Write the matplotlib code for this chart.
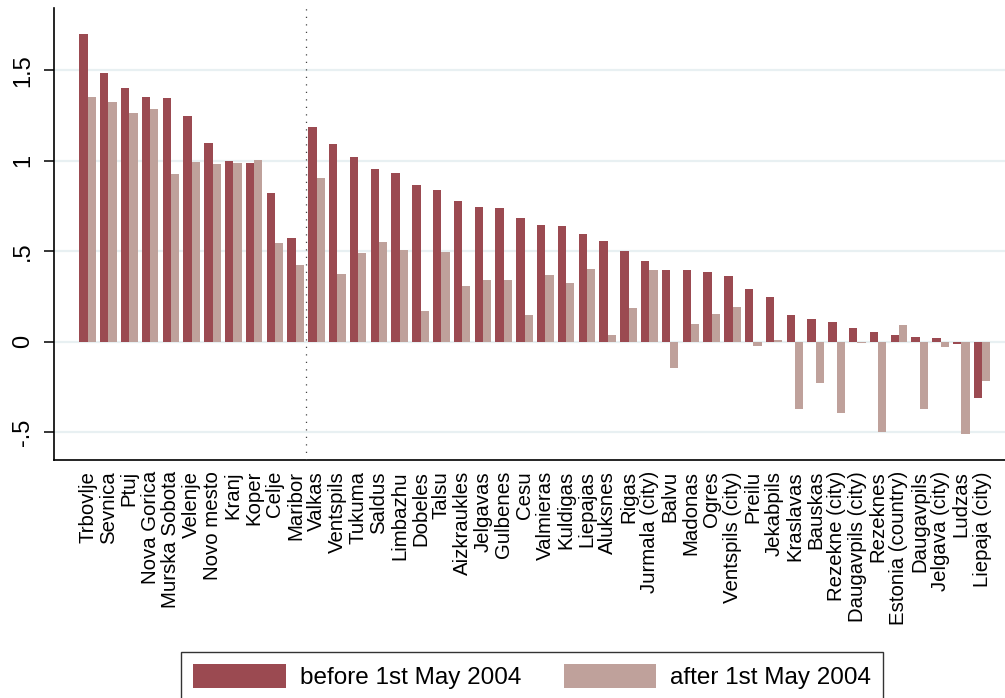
#!/usr/bin/env python3
"""Bar chart: regional values before and after 1st May 2004 (Slovenia / Latvia / Estonia)."""

import numpy as np
import matplotlib
matplotlib.use("Agg")
import matplotlib.pyplot as plt
from matplotlib.patches import Patch

plt.rcParams['font.family'] = ['Liberation Sans', 'DejaVu Sans']

regions = [
    "Trbovlje", "Sevnica", "Ptuj", "Nova Gorica", "Murska Sobota", "Velenje",
    "Novo mesto", "Kranj", "Koper", "Celje", "Maribor",
    "Valkas", "Ventspils", "Tukuma", "Saldus", "Limbazhu", "Dobeles", "Talsu",
    "Aizkraukles", "Jelgavas", "Gulbenes", "Cesu", "Valmieras", "Kuldigas",
    "Liepajas", "Aluksnes", "Rigas", "Jurmala (city)", "Balvu", "Madonas",
    "Ogres", "Ventspils (city)", "Preilu", "Jekabpils", "Kraslavas", "Bauskas",
    "Rezekne (city)", "Daugavpils (city)", "Rezeknes", "Estonia (country)",
    "Daugavpils", "Jelgava (city)", "Ludzas", "Liepaja (city)",
]

before = [
    1.703, 1.485, 1.402, 1.353, 1.349, 1.246, 1.098, 0.999, 0.988, 0.824, 0.573,
    1.185, 1.093, 1.021, 0.955, 0.934, 0.865, 0.839, 0.776, 0.746, 0.737, 0.684,
    0.647, 0.641, 0.597, 0.555, 0.502, 0.446, 0.396, 0.396, 0.387, 0.361, 0.291,
    0.245, 0.149, 0.127, 0.107, 0.077, 0.055, 0.039, 0.026, 0.019, -0.014, -0.313,
]

after = [
    1.353, 1.323, 1.264, 1.286, 0.925, 0.992, 0.982, 0.988, 1.004, 0.544, 0.422,
    0.905, 0.376, 0.492, 0.553, 0.509, 0.171, 0.496, 0.306, 0.341, 0.339, 0.149,
    0.370, 0.326, 0.400, 0.037, 0.185, 0.399, -0.144, 0.098, 0.153, 0.190, -0.022,
    0.009, -0.374, -0.228, -0.394, -0.005, -0.497, 0.094, -0.372, -0.028, -0.512, -0.217,
]

y_ticks = [-0.5, 0, 0.5, 1, 1.5]
y_tick_labels = ["-.5", "0", ".5", "1", "1.5"]
legend_labels = ["before 1st May 2004", "after 1st May 2004"]
split_after = 10  # index of last Slovenian region (dotted separator)

c_before = "#9b4a51"
c_after = "#bfa19b"

fig = plt.figure(figsize=(10.05, 6.98), dpi=100)
ax = fig.add_axes([54 / 1005, 1 - 460 / 698, 1 - 54 / 1005, (460 - 8) / 698])

x = np.arange(len(regions))
w = 0.4
ax.bar(x - w / 2, before, width=w, color=c_before, edgecolor="none", zorder=2)
ax.bar(x + w / 2, after, width=w, color=c_after, edgecolor="none", zorder=2)

ax.axvline(split_after + 0.5, color="#444444", lw=0.9, linestyle=(0, (1, 5)), zorder=3)

ax.set_xlim(-1.62, 44.1)
ax.set_ylim(-0.654, 1.845)

ax.set_yticks(y_ticks)
ax.set_yticklabels(y_tick_labels, rotation=90, va="center", fontsize=17)
ax.tick_params(axis="y", length=7.2, width=1.1, pad=7)
ax.set_xticks(x)
ax.set_xticklabels(regions, rotation=90, ha="center", va="top", fontsize=14.7)
ax.tick_params(axis="x", length=0, pad=8)

ax.grid(True, axis="y", color="#e8f0f2", lw=1.6, zorder=0)
ax.set_axisbelow(True)

for side in ["top", "right"]:
    ax.spines[side].set_visible(False)
for side in ["left", "bottom"]:
    ax.spines[side].set_linewidth(1.2)
    ax.spines[side].set_color("black")

handles = [Patch(facecolor=c_before, edgecolor="none"),
           Patch(facecolor=c_after, edgecolor="none")]
leg = fig.legend(handles, legend_labels, ncol=2, loc="upper left",
                 bbox_to_anchor=(181 / 1005, 1 - 652 / 698),
                 fontsize=17.5, frameon=True, fancybox=False, shadow=False,
                 handlelength=3.8, handleheight=1.15, handletextpad=0.58,
                 columnspacing=1.75, borderpad=0.5, borderaxespad=0)
leg.get_frame().set_edgecolor("black")
leg.get_frame().set_linewidth(1.0)

fig.savefig("out.png", dpi=100)
